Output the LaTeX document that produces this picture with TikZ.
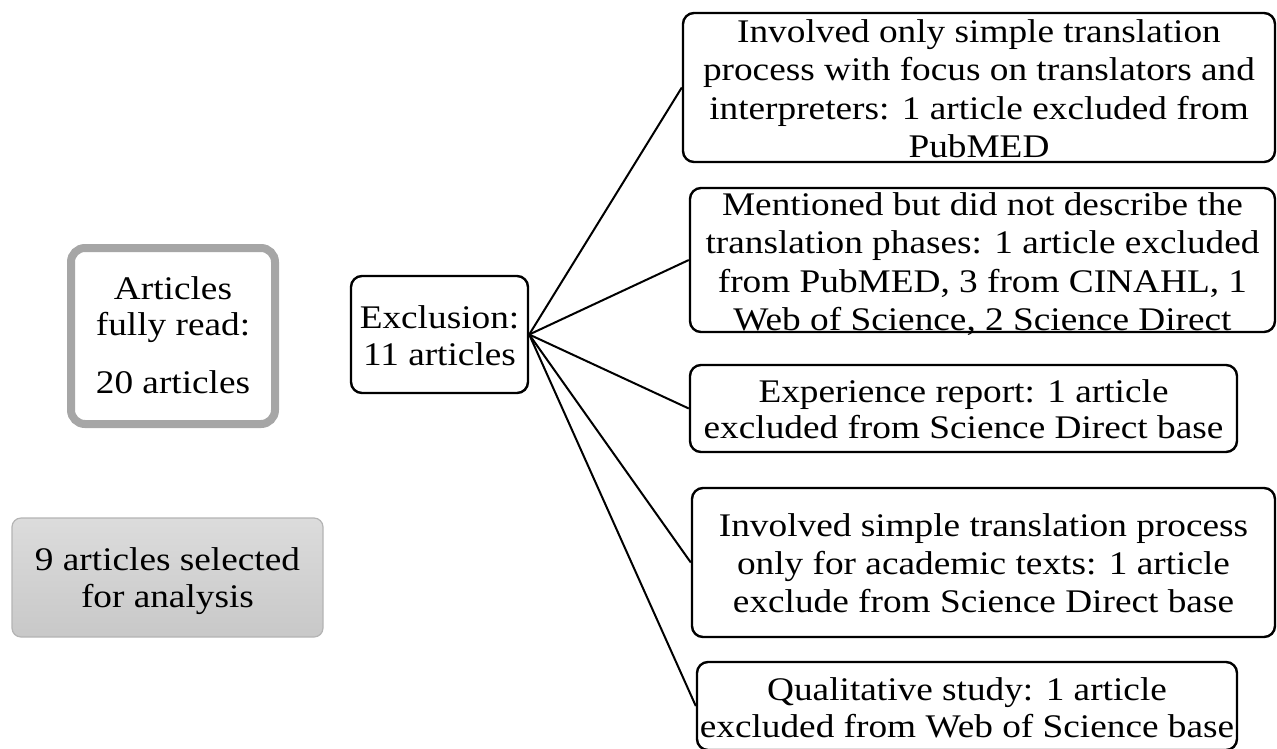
\documentclass[tikz,border=0pt]{standalone}
\usepackage{fontspec}
\setmainfont{Liberation Serif}[FakeStretch=1.13]
\definecolor{framegray}{HTML}{A6A6A6}
\definecolor{selgray}{HTML}{B4B4B4}
\definecolor{seltop}{HTML}{DCDCDC}
\definecolor{selbot}{HTML}{C8C8C8}
\begin{document}
\begin{tikzpicture}[x=1pt,y=-1pt,
  boxframe/.style={draw=black, line width=2.4pt, rounded corners=11pt, fill=white, inner sep=0pt},
  boxtext/.style={align=center, inner sep=0pt, anchor=north, font=\fontsize{33}{38.3}\selectfont},
  conn/.style={line width=2pt}]
\useasboundingbox (0,0) rectangle (1277,748);
\begin{scope}
\clip (0,0) rectangle (1277,748);
% left boxes
\node[draw=framegray, line width=8pt, rounded corners=14pt, fill=white,
      minimum width=204pt, minimum height=176pt, inner sep=0pt] (read) at (173,336) {};
\node[boxtext, font=\fontsize{33}{36.5}\selectfont] (readtxt) at (173,276) {Articles\\fully read:\\[21pt]20 articles};
\node[draw=selgray, line width=1.2pt, rounded corners=9pt, top color=seltop, bottom color=selbot,
      minimum width=311pt, minimum height=119pt, inner sep=0pt] (sel) at (167.5,577.5) {};
\node[boxtext, font=\fontsize{33}{37}\selectfont] (seltxt) at (167.5,547) {9 articles selected\\for analysis};
% exclusion
\node[boxframe, minimum width=177pt, minimum height=117pt] (excl) at (439.5,334.5) {};
\node[boxtext, font=\fontsize{33}{37}\selectfont] (excltxt) at (439.5,305) {Exclusion:\\11 articles};
% right boxes
\node[boxframe, minimum width=592pt, minimum height=149pt] (b1) at (979,87.5) {};
\node[boxtext] (t1) at (979,19.5) {Involved only simple translation\\process with focus on translators and\\interpreters: 1 article excluded from\\PubMED};
\node[boxframe, minimum width=585pt, minimum height=144pt] (b2) at (982.5,260) {};
\node[boxtext] (t2) at (982.5,192.5) {Mentioned but did not describe the\\translation phases: 1 article excluded\\from PubMED, 3 from CINAHL, 1\\Web of Science, 2 Science Direct};
\node[boxframe, minimum width=547pt, minimum height=87pt] (b3) at (963.5,408.5) {};
\node[boxtext, font=\fontsize{33}{36.5}\selectfont] (t3) at (963.5,379) {Experience report: 1 article\\excluded from Science Direct base};
\node[boxframe, minimum width=583pt, minimum height=149pt] (b4) at (983.5,562.5) {};
\node[boxtext] (t4) at (983.5,513) {Involved simple translation process\\only for academic texts: 1 article\\exclude from Science Direct base};
\node[boxframe, minimum width=540pt, minimum height=88pt] (b5) at (967,706) {};
\node[boxtext, font=\fontsize{33}{37}\selectfont] (t5) at (967,677) {Qualitative study: 1 article\\excluded from Web of Science base};
% connectors
\foreach \b in {b1,b2,b3,b4,b5}
  \draw[conn] (excl.east) -- (\b.west);
\end{scope}
\end{tikzpicture}
\end{document}
